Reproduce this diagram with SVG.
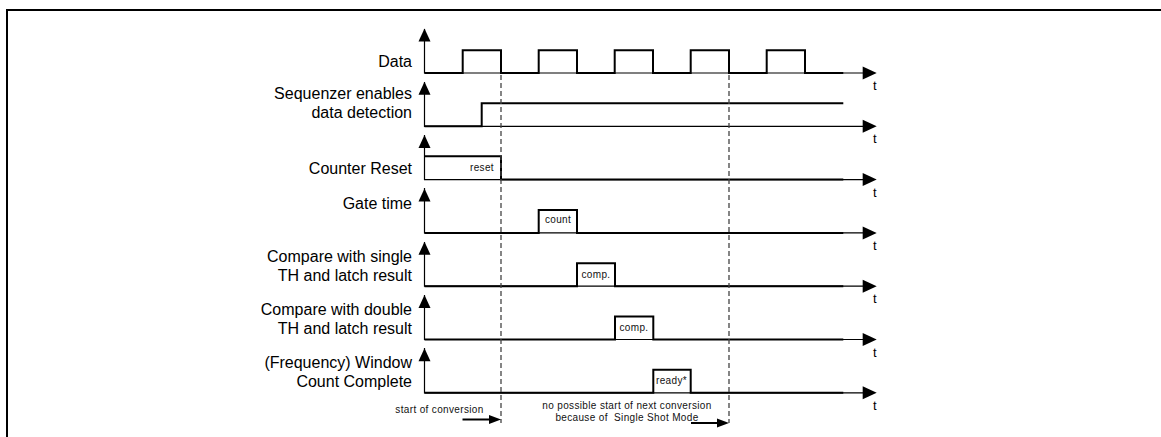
<svg xmlns="http://www.w3.org/2000/svg" xmlns:xlink="http://www.w3.org/1999/xlink" width="1161" height="437" viewBox="0 0 1161 437">
<style>
.lbl{font-family:"Liberation Sans",Arial,sans-serif;font-size:16px;fill:#000;text-anchor:end}
.t{font-family:"Liberation Sans",Arial,sans-serif;font-size:13px;fill:#000}
.sm{font-family:"Liberation Sans",Arial,sans-serif;font-size:10px;fill:#111;letter-spacing:0.35px;text-anchor:middle;white-space:pre}
.axis{stroke:#000;stroke-width:1.2;fill:none}
.sig{stroke:#000;stroke-width:2;fill:none;stroke-linejoin:miter}
.dash{stroke:#444;stroke-width:1.3;stroke-dasharray:5,3;fill:none}
.frame{stroke:#000;stroke-width:2;fill:none}
</style>
<defs>
<path id="up" d="M0,0 L6,13 L-6,13 Z" fill="#000"/>
<path id="right" d="M0,0 L-14,-6.5 L-14,6.5 Z" fill="#000"/>
<path id="sarr" d="M0,0 L-12,-4.5 L-12,4.5 Z" fill="#000"/>
</defs>
<path class="frame" d="M7,437 L7,10 L1161,10"/>

<g id="row-data">
<path class="axis" d="M424.5,29 V73 H866"/>
<use xlink:href="#up" x="424.5" y="28.5"/>
<use xlink:href="#right" x="876.7" y="73"/>
<text class="t" x="873" y="90">t</text>
<text class="lbl" x="412" y="67">Data</text>
<path class="sig" d="M424.5,73 H462.7 V50.3 H501 V73 H538.7 V50.3 H577 V73 H614.7 V50.3 H653 V73 H690.7 V50.3 H729 V73 H766.7 V50.3 H805 V73 H843.3"/>
</g>

<g id="row-seq">
<path class="axis" d="M424.5,82 V126.3 H866"/>
<use xlink:href="#up" x="424.5" y="81.8"/>
<use xlink:href="#right" x="876.7" y="126.3"/>
<text class="t" x="873" y="143.3">t</text>
<text class="lbl" x="412" y="99">Sequenzer enables</text>
<text class="lbl" x="412" y="118">data detection</text>
<path class="sig" d="M424.5,126.3 H481.7 V103.3 H843.3"/>
</g>

<g id="row-reset">
<path class="axis" d="M424.5,135 V179.6 H866"/>
<use xlink:href="#up" x="424.5" y="135.1"/>
<use xlink:href="#right" x="876.7" y="179.6"/>
<text class="t" x="873" y="196.6">t</text>
<text class="lbl" x="412" y="173.5">Counter Reset</text>
<path class="sig" d="M424.5,156.3 H501 V179.6 H843.3"/>
<text class="sm" x="482" y="170.7">reset</text>
</g>

<g id="row-gate">
<path class="axis" d="M424.5,188 V232.9 H866"/>
<use xlink:href="#up" x="424.5" y="188.4"/>
<use xlink:href="#right" x="876.7" y="232.9"/>
<text class="t" x="873" y="249.9">t</text>
<text class="lbl" x="412" y="208.5">Gate time</text>
<path class="sig" d="M424.5,232.9 H538.7 V209.9 H577 V232.9 H843.3"/>
<text class="sm" x="558" y="223.3">count</text>
</g>

<g id="row-single">
<path class="axis" d="M424.5,242 V286.2 H866"/>
<use xlink:href="#up" x="424.5" y="241.7"/>
<use xlink:href="#right" x="876.7" y="286.2"/>
<text class="t" x="873" y="303.2">t</text>
<text class="lbl" x="412" y="261.7">Compare with single</text>
<text class="lbl" x="412" y="281">TH and latch result</text>
<path class="sig" d="M424.5,286.2 H577 V263.2 H615 V286.2 H843.3"/>
<text class="sm" x="596" y="278.3">comp.</text>
</g>

<g id="row-double">
<path class="axis" d="M424.5,295 V339.5 H866"/>
<use xlink:href="#up" x="424.5" y="295"/>
<use xlink:href="#right" x="876.7" y="339.5"/>
<text class="t" x="873" y="356.5">t</text>
<text class="lbl" x="412" y="314.5">Compare with double</text>
<text class="lbl" x="412" y="334">TH and latch result</text>
<path class="sig" d="M424.5,339.5 H615 V316.5 H653.3 V339.5 H843.3"/>
<text class="sm" x="634" y="331">comp.</text>
</g>

<g id="row-window">
<path class="axis" d="M424.5,348 V392.8 H866"/>
<use xlink:href="#up" x="424.5" y="348.3"/>
<use xlink:href="#right" x="876.7" y="392.8"/>
<text class="t" x="873" y="409.8">t</text>
<text class="lbl" x="412" y="368">(Frequency) Window</text>
<text class="lbl" x="412" y="387.3">Count Complete</text>
<path class="sig" d="M424.5,392.8 H653.3 V369.8 H690.7 V392.8 H843.3"/>
<text class="sm" x="671.5" y="383.5">ready*</text>
</g>

<g id="connectors">
<path class="dash" d="M501,75 V423"/>
<path class="dash" d="M729,75 V423"/>
<path class="sig" d="M462.5,419.5 H490"/>
<use xlink:href="#sarr" x="501" y="419.5"/>
<path class="sig" d="M691,423 H718"/>
<use xlink:href="#sarr" x="729" y="423"/>
</g>

<g id="annotations">
<text class="sm" x="439.5" y="413">start of conversion</text>
<text class="sm" x="627" y="408.5">no possible start of next conversion</text>
<text class="sm" x="627" y="420.5" xml:space="preserve">because of  Single Shot Mode</text>
</g>
</svg>
